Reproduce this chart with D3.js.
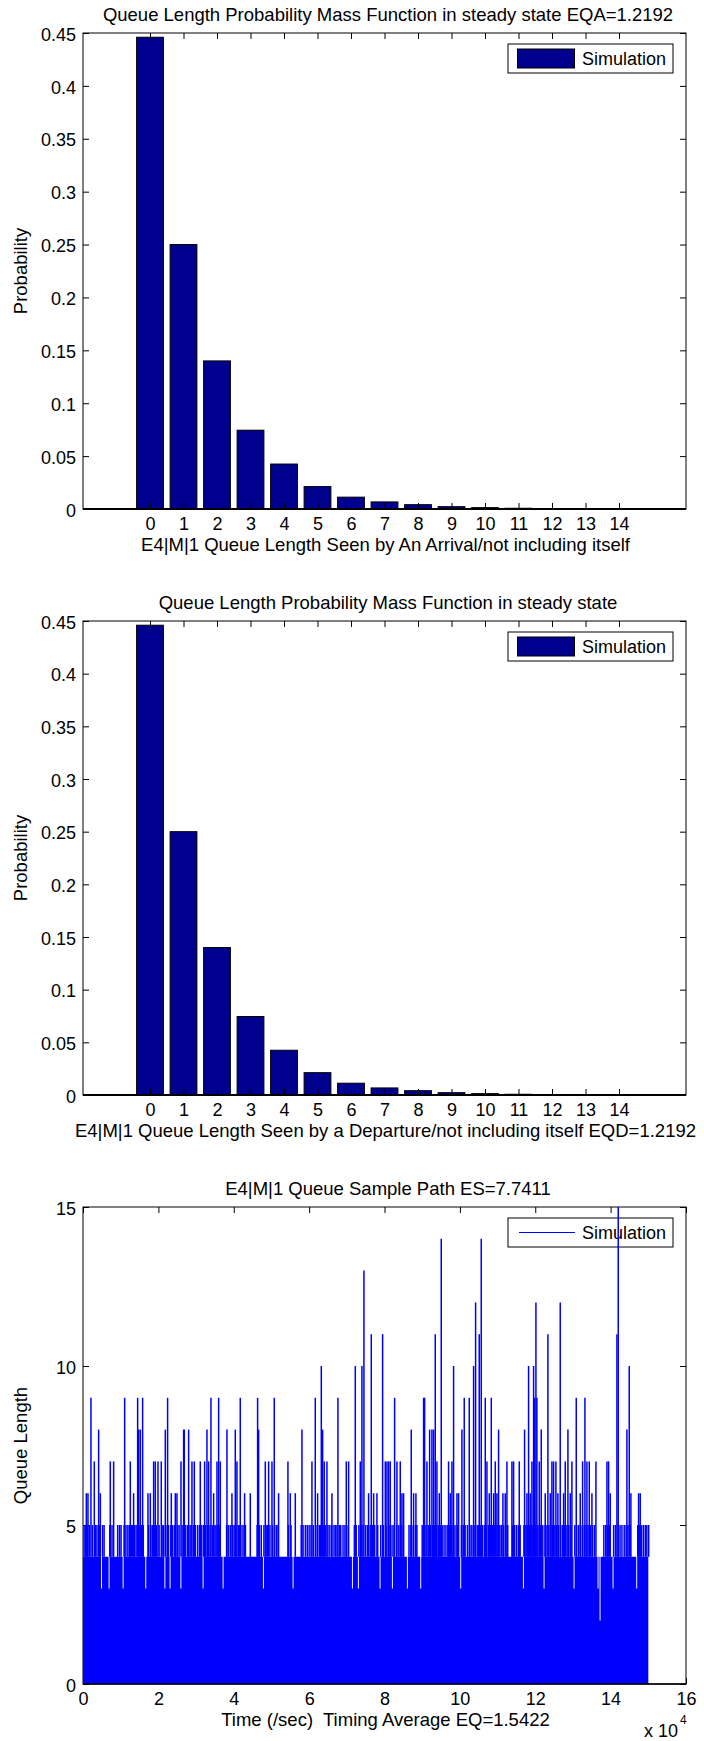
<!DOCTYPE html>
<html>
<head>
<meta charset="utf-8">
<script src="https://cdn.jsdelivr.net/npm/d3@7"></script>
<style>
  body { margin: 0; background: #fff; }
  svg { display: block; font-family: "Liberation Sans", Arial, Helvetica, sans-serif; }
  text { white-space: pre; }
</style>
</head>
<body>
<svg id="fig" width="704" height="1741"></svg>
<script>
// queue length categories and pmf
const QUEUE_LENGTHS = [0, 1, 2, 3, 4, 5, 6, 7, 8, 9, 10, 11, 12, 13, 14];
const ARRIVAL_PMF = [0.446, 0.250, 0.140, 0.0745, 0.0425, 0.0212, 0.0112, 0.0067, 0.0041, 0.0022, 0.0013, 0.0007, 0.0004, 0.0002, 0.0001];
const DEPARTURE_PMF = [0.446, 0.250, 0.140, 0.0745, 0.0425, 0.0212, 0.0112, 0.0067, 0.0041, 0.0022, 0.0013, 0.0007, 0.0004, 0.0002, 0.0001];
const PMF_TICKS = [0, 0.05, 0.1, 0.15, 0.2, 0.25, 0.3, 0.35, 0.4, 0.45];
const PMF_TICK_LABELS = ['0', '0.05', '0.1', '0.15', '0.2', '0.25', '0.3', '0.35', '0.4', '0.45'];

// sample path, time in units of 1e4 s
const TIME_TICKS = [0, 2, 4, 6, 8, 10, 12, 14, 16];
const LENGTH_TICKS = [0, 5, 10, 15];
const FLOOR_LEVEL = 4;
const DIP_TIMES = [0.477, 0.68, 1.052, 1.653, 2.16, 2.298, 2.585, 3.174, 3.705, 4.775, 5.562, 7.136, 7.295, 7.87, 8.197,
  8.595, 8.949, 10.01, 11.673, 12.221, 13.017, 13.654, 13.707, 14.052, 14.68];
const DIP_LEVELS = [3, 3, 3, 3, 3, 3, 3, 3, 3, 3, 3, 3, 3, 3, 3, 3, 3, 3, 3, 3, 3, 3, 2, 3, 3];
const FIVE_TIMES = [0.03, 0.07, 0.12, 0.17, 0.25, 0.33, 0.37, 0.44, 0.52, 0.56, 0.71, 0.77, 0.92, 0.97, 1.01, 1.09, 1.14,
  1.19, 1.23, 1.28, 1.31, 1.37, 1.41, 1.49, 1.55, 1.6, 1.74, 1.8, 1.84, 1.9, 1.95, 2.02, 2.1, 2.14, 2.2, 2.27, 2.33, 2.38,
  2.43, 2.51, 2.55, 2.63, 2.72, 2.77, 2.84, 2.87, 2.93, 2.98, 3.04, 3.09, 3.15, 3.2, 3.25, 3.31, 3.37, 3.43, 3.5, 3.53,
  3.58, 3.63, 3.81, 3.86, 3.91, 3.97, 4.01, 4.06, 4.12, 4.16, 4.22, 4.27, 4.31, 4.62, 4.68, 4.73, 4.8, 4.86, 4.9, 4.96,
  5.03, 5.09, 5.14, 5.18, 5.45, 5.52, 5.79, 5.84, 5.9, 5.95, 6.0, 6.05, 6.11, 6.18, 6.27, 6.3, 6.38, 6.44, 6.5, 6.55, 6.6,
  6.66, 6.7, 6.74, 6.8, 6.84, 6.9, 6.95, 7.0, 7.2, 7.25, 7.32, 7.38, 7.43, 7.5, 7.55, 7.62, 7.68, 7.74, 7.82, 7.9, 7.97,
  8.04, 8.12, 8.2, 8.25, 8.32, 8.38, 8.44, 8.5, 8.65, 8.7, 8.76, 8.82, 8.86, 9.0, 9.05, 9.1, 9.16, 9.22, 9.28, 9.33, 9.38,
  9.43, 9.48, 9.53, 9.58, 9.63, 9.68, 9.72, 9.77, 9.82, 9.87, 9.93, 10.04, 10.09, 10.14, 10.2, 10.26, 10.3, 10.35, 10.4,
  10.46, 10.5, 10.55, 10.6, 10.65, 10.7, 10.76, 10.81, 10.86, 10.91, 10.96, 11.01, 11.06, 11.1, 11.16, 11.22, 11.27, 11.4,
  11.45, 11.5, 11.55, 11.6, 11.7, 11.75, 11.8, 11.85, 11.9, 11.94, 12.0, 12.05, 12.1, 12.14, 12.2, 12.26, 12.31, 12.36,
  12.41, 12.46, 12.52, 12.57, 12.62, 12.68, 12.73, 12.78, 12.84, 12.89, 12.95, 13.05, 13.1, 13.15, 13.2, 13.25, 13.3, 13.35,
  13.4, 13.46, 13.52, 13.57, 13.82, 13.87, 13.92, 13.97, 14.08, 14.13, 14.2, 14.25, 14.3, 14.36, 14.41, 14.46, 14.52, 14.72,
  14.77, 14.82, 14.87, 14.92, 14.96, 15.01];
const PEAK_TIMES = [0.088, 0.132, 0.211, 0.30, 0.415, 0.46, 0.724, 0.813, 1.105, 1.255, 1.343, 1.45, 1.476, 1.52, 1.582,
  1.724, 1.786, 1.874, 1.918, 1.989, 2.077, 2.184, 2.245, 2.343, 2.449, 2.493, 2.6, 2.67, 2.688, 2.803, 2.891, 2.953, 3.112,
  3.227, 3.289, 3.333, 3.395, 3.466, 3.555, 3.599, 3.643, 3.82, 3.952, 4.041, 4.085, 4.173, 4.288, 4.439, 4.633, 4.66, 4.837,
  4.925, 5.014, 5.075, 5.19, 5.438, 5.5, 5.633, 5.81, 6.075, 6.163, 6.225, 6.323, 6.358, 6.402, 6.473, 6.605, 6.764, 6.986,
  7.048, 7.225, 7.357, 7.401, 7.454, 7.578, 7.649, 7.711, 7.799, 7.95, 8.021, 8.065, 8.109, 8.153, 8.268, 8.33, 8.418, 8.463,
  8.507, 8.71, 8.772, 8.834, 9.037, 9.064, 9.126, 9.197, 9.258, 9.303, 9.347, 9.391, 9.453, 9.506, 9.7, 9.745, 9.789, 9.833,
  9.922, 9.966, 10.054, 10.116, 10.249, 10.364, 10.417, 10.514, 10.567, 10.674, 10.718, 10.78, 10.833, 10.895, 10.939,
  10.983, 11.027, 11.142, 11.204, 11.249, 11.381, 11.425, 11.576, 11.717, 11.779, 11.823, 11.867, 11.912, 11.956, 11.982,
  12.018, 12.044, 12.106, 12.159, 12.265, 12.336, 12.398, 12.442, 12.486, 12.548, 12.601, 12.663, 12.752, 12.796, 12.867,
  12.929, 12.973, 13.088, 13.194, 13.256, 13.318, 13.371, 13.433, 13.504, 13.61, 13.902, 13.946, 13.99, 14.167, 14.202,
  14.432, 14.494, 14.538, 14.742, 14.786];
const PEAK_LEVELS = [6, 6, 9, 7, 8, 6, 7, 7, 9, 7, 6, 9, 8, 8, 9,
  6, 6, 7, 7, 7, 7, 8, 9, 6, 6, 6, 7, 8, 8, 8, 7, 7, 7,
  7, 8, 7, 9, 6, 7, 9, 7, 8, 6, 8, 7, 9, 6, 6, 9, 8, 7,
  7, 7, 9, 6, 7, 6, 6, 8, 7, 9, 6, 10, 8, 7, 7, 6, 9, 7,
  7, 10, 7, 10, 13, 6, 11, 6, 6, 11, 7, 7, 7, 7, 9, 7, 7, 6,
  6, 8, 6, 6, 9, 9, 7, 8, 8, 8, 11, 7, 6, 14, 7, 6, 7, 10,
  6, 6, 8, 9, 9, 10, 12, 11, 14, 9, 7, 6, 9, 6, 7,
  6, 8, 6, 6, 7, 7, 7, 7, 8, 6, 10, 6, 7, 10, 9,
  12, 9, 7, 8, 6, 11, 6, 7, 7, 7, 6, 12, 6, 7, 8,
  6, 7, 9, 6, 7, 9, 7, 7, 6, 7, 7, 7, 6, 11, 15,
  8, 10, 6, 6, 6];

const NAVY = '#00008f';
const BLUE = '#0000ff';
const TICK_FONT = 18;
const LABEL_FONT = 18.5;
const PLOT_LEFT = 83;
const PLOT_WIDTH = 603;

const svg = d3.select('#fig');

function styleAxis(sel, showLabels) {
  sel.attr('font-size', TICK_FONT).attr('font-family', null);
  sel.select('.domain').remove();
  sel.selectAll('.tick line').attr('stroke', '#000');
  sel.selectAll('.tick text').attr('fill', '#000');
  if (!showLabels) sel.selectAll('.tick text').remove();
}

function frame(g, x, y, h, xTicks, yTicks, xFormat, yFormat) {
  g.append('g').attr('transform', `translate(0,${h})`)
    .call(d3.axisBottom(x).tickValues(xTicks).tickFormat(xFormat).tickSizeInner(-6).tickSizeOuter(0).tickPadding(8))
    .call(s => styleAxis(s, true));
  g.append('g')
    .call(d3.axisTop(x).tickValues(xTicks).tickSizeInner(-6).tickSizeOuter(0))
    .call(s => styleAxis(s, false));
  g.append('g')
    .call(d3.axisLeft(y).tickValues(yTicks).tickFormat(yFormat).tickSizeInner(-6).tickSizeOuter(0).tickPadding(7))
    .call(s => styleAxis(s, true))
    .selectAll('.tick text').attr('dy', '0.4em');
  g.append('g').attr('transform', `translate(${PLOT_WIDTH},0)`)
    .call(d3.axisRight(y).tickValues(yTicks).tickSizeInner(-6).tickSizeOuter(0))
    .call(s => styleAxis(s, false));
  g.append('rect').attr('width', PLOT_WIDTH).attr('height', h)
    .attr('fill', 'none').attr('stroke', '#000').attr('stroke-width', 1);
}

function labels(g, h, title, xLabel, yLabel) {
  g.append('text').attr('x', 305).attr('y', -12.5).attr('text-anchor', 'middle')
    .attr('font-size', LABEL_FONT).text(title);
  g.append('text').attr('x', 302.5).attr('y', h + 41.5).attr('text-anchor', 'middle')
    .attr('font-size', LABEL_FONT).text(xLabel);
  g.append('text').attr('transform', `translate(-56,${h / 2}) rotate(-90)`)
    .attr('text-anchor', 'middle').attr('font-size', LABEL_FONT).text(yLabel);
}

function legendBox(g) {
  const lg = g.append('g').attr('transform', `translate(425,11)`);
  lg.append('rect').attr('width', 165).attr('height', 29)
    .attr('fill', '#fff').attr('stroke', '#000').attr('stroke-width', 1);
  lg.append('text').attr('x', 74).attr('y', 21).attr('font-size', TICK_FONT).text('Simulation');
  return lg;
}

function barChart(top, height, values, title, xLabel) {
  const g = svg.append('g').attr('transform', `translate(${PLOT_LEFT},${top})`);
  const x = d3.scaleLinear().domain([-2, 16]).range([0, PLOT_WIDTH]);
  const y = d3.scaleLinear().domain([0, 0.45]).range([height, 0]);
  const half = 0.4;

  g.selectAll('rect.bar').data(values).join('rect').attr('class', 'bar')
    .attr('x', (d, i) => x(QUEUE_LENGTHS[i] - half))
    .attr('width', x(half) - x(-half))
    .attr('y', d => y(d))
    .attr('height', d => y(0) - y(d))
    .attr('fill', NAVY).attr('stroke', '#000').attr('stroke-width', 1);

  frame(g, x, y, height, QUEUE_LENGTHS, PMF_TICKS, d => d, (d, i) => PMF_TICK_LABELS[i]);
  g.append('line').attr('x1', 0).attr('x2', PLOT_WIDTH).attr('y1', y(0)).attr('y2', y(0))
    .attr('stroke', '#000').attr('stroke-width', 2);

  labels(g, height, title, xLabel, 'Probability');
  const lg = legendBox(g);
  lg.append('rect').attr('x', 9.5).attr('y', 5).attr('width', 57).attr('height', 19)
    .attr('fill', NAVY).attr('stroke', '#000').attr('stroke-width', 1);
}

function pathChart(top, height) {
  const g = svg.append('g').attr('transform', `translate(${PLOT_LEFT},${top})`);
  const x = d3.scaleLinear().domain([0, 16]).range([0, PLOT_WIDTH]);
  const y = d3.scaleLinear().domain([0, 15]).range([height, 0]);

  frame(g, x, y, height, TIME_TICKS, LENGTH_TICKS, d => d, d => d);
  labels(g, height, 'E4|M|1 Queue Sample Path ES=7.7411',
    'Time (/sec)  Timing Average EQ=1.5422', 'Queue Length');
  const lg = legendBox(g);
  lg.append('line').attr('x1', 11).attr('x2', 67).attr('y1', 14.5).attr('y2', 14.5)
    .attr('stroke', BLUE).attr('stroke-width', 1);

  // dense floor of the path, with the short drops
  const floor = [{ t: 0, q: FLOOR_LEVEL }];
  DIP_TIMES.forEach((t, i) => {
    floor.push({ t: t, q: DIP_LEVELS[i] });
    floor.push({ t: t + 0.025, q: FLOOR_LEVEL });
  });
  floor.push({ t: 15.0, q: FLOOR_LEVEL });
  floor.push({ t: 15.0, q: 0 });
  g.append('path').datum(floor)
    .attr('d', d3.area().curve(d3.curveStepAfter).x(d => x(d.t)).y0(y(0)).y1(d => y(d.q)))
    .attr('fill', BLUE);

  const spikes = FIVE_TIMES.map(t => ({ t: t, q: 5 }))
    .concat(PEAK_TIMES.map((t, i) => ({ t: t, q: PEAK_LEVELS[i] })));
  g.selectAll('line.spike').data(spikes).join('line').attr('class', 'spike')
    .attr('x1', d => x(d.t)).attr('x2', d => x(d.t))
    .attr('y1', y(FLOOR_LEVEL)).attr('y2', d => y(d.q))
    .attr('stroke', BLUE).attr('stroke-width', 1.5);

  g.append('line').attr('x1', 0).attr('x2', PLOT_WIDTH).attr('y1', height).attr('y2', height)
    .attr('stroke', '#000').attr('stroke-width', 1.5);

  g.append('text').attr('x', 595).attr('y', height + 53).attr('text-anchor', 'end')
    .attr('font-size', TICK_FONT).text('x 10');
  g.append('text').attr('x', 597).attr('y', height + 40).attr('font-size', 12).text('4');
}

barChart(33, 476, ARRIVAL_PMF,
  'Queue Length Probability Mass Function in steady state EQA=1.2192',
  'E4|M|1 Queue Length Seen by An Arrival/not including itself');
barChart(621, 474, DEPARTURE_PMF,
  'Queue Length Probability Mass Function in steady state',
  'E4|M|1 Queue Length Seen by a Departure/not including itself EQD=1.2192');
pathChart(1207, 477);
</script>
</body>
</html>
